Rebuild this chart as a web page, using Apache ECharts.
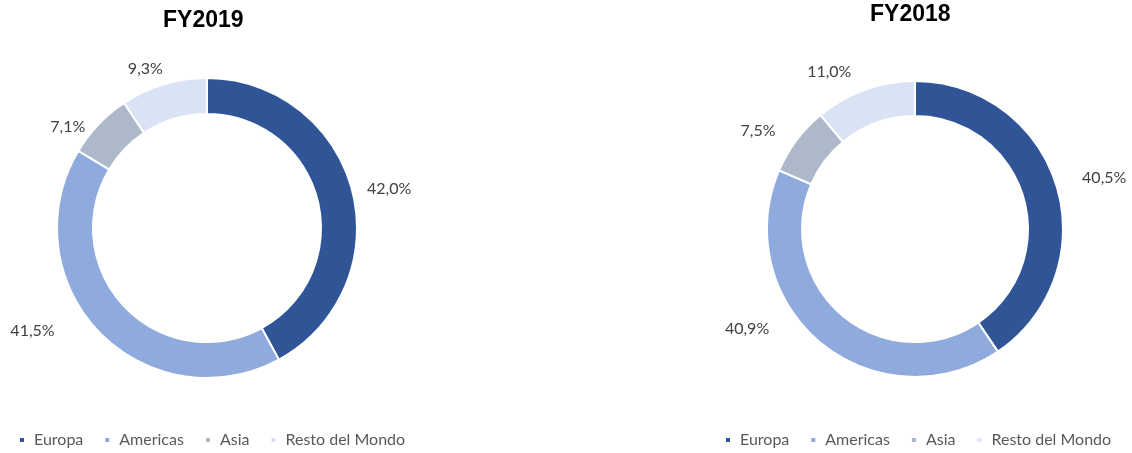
<!DOCTYPE html>
<html>
<head>
<meta charset="utf-8">
<script src="https://cdn.jsdelivr.net/npm/echarts@6/dist/echarts.min.js"></script>
<style>
  html, body { margin: 0; padding: 0; background: #fff; }
  #chart { width: 1132px; height: 453px; }
</style>
</head>
<body>
<div id="chart"></div>
<script>
const regions = ['Europa', 'Americas', 'Asia', 'Resto del Mondo'];
const fy2019 = [42.0, 41.5, 7.1, 9.3];
const fy2018 = [40.5, 40.9, 7.5, 11.0];
const colors = ['#2F5597', '#8FAADC', '#ADB9CA', '#DAE3F3'];

// label nudges (dx, dy) so the labels sit where Excel put them
const nudge2019 = [[5, 0], [-37, -8], [-6, 9], [2, -6]];
const nudge2018 = [[16, -5], [-45, -22], [-13, -3], [-10, -9]];

const fmt = (v) => v.toFixed(1).replace('.', ',') + '%';

function donut(name, values, center, radius, nudge) {
  return {
    name,
    type: 'pie',
    center,
    radius,
    startAngle: 90,
    clockwise: true,
    avoidLabelOverlap: false,
    animation: false,
    itemStyle: { borderColor: '#fff', borderWidth: 2 },
    label: {
      show: true,
      position: 'outside',
      formatter: (p) => fmt(p.value),
      color: '#404040',
      fontFamily: 'Lato',
      fontSize: 16,
      distanceToLabelLine: 0,
    },
    labelLine: { show: false, length: 10, length2: 0 },
    labelLayout: (p) => ({ dx: nudge[p.dataIndex][0], dy: nudge[p.dataIndex][1] }),
    emphasis: { disabled: true },
    data: regions.map((r, i) => ({ name: r, value: values[i] })),
  };
}

const legendBase = {
  data: regions,
  icon: 'rect',
  itemWidth: 6,
  itemHeight: 6,
  itemGap: 20,
  padding: 0,
  selectedMode: false,
  textStyle: {
    color: '#595959',
    fontFamily: 'Lato',
    fontSize: 16,
    padding: [0, 0, 0, 4],
  },
};

const titleStyle = { fontFamily: 'Liberation Sans', fontWeight: 'bold', fontSize: 23, color: '#000' };

const chart = echarts.init(document.getElementById('chart'));
chart.setOption({
  color: colors,
  title: [
    { text: 'FY2019', left: 163, top: 9, padding: 0, textStyle: titleStyle },
    { text: 'FY2018', left: 870, top: 3, padding: 0, textStyle: titleStyle },
  ],
  legend: [
    Object.assign({}, legendBase, { left: 18, top: 432 }),
    Object.assign({}, legendBase, { left: 724, top: 432 }),
  ],
  series: [
    donut('FY2019', fy2019, [207, 228], [114, 150], nudge2019),
    donut('FY2018', fy2018, [915, 229], [113, 148], nudge2018),
  ],
});
</script>
</body>
</html>
